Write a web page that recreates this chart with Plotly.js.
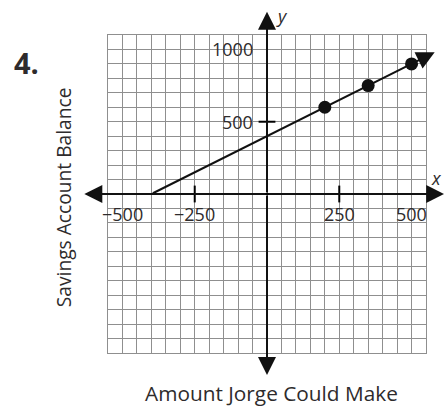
<!DOCTYPE html>
<html>
<head>
<meta charset="utf-8">
<script src="https://cdn.plot.ly/plotly-3.0.1.min.js"></script>
<style>html,body{margin:0;padding:0;background:#fff;}#chart{width:444px;height:406px;}</style>
</head>
<body>
<div id="chart"></div>
<script>
// Data
const pointsX = [200, 350, 500];
const pointsY = [600, 750, 900];
const lineX = [-400, 580];
const lineY = [0, 980];
const xTickLabels = ["\u2212500", "\u2212250", "250", "500"];
const xTickValues = [-500, -250, 250, 500];
const yTickLabels = ["500", "1000"];
const yTickValues = [500, 1000];
const xTickMarks = [-250, 250];
const yTickMarks = [0, 500];
const axisTipsX = [-632, 613];
const axisTipsY = [-1253, 1260];
const xRange = [-550, 550];
const yRange = [-1100, 1100];

const FONT = '"Open Sans", Lato, sans-serif';
const TXT = '#2e2b2c';
const GRID = '#8f8f8f';

const traces = [
  {
    x: xTickMarks, y: xTickMarks.map(() => 0), mode: 'markers', type: 'scatter',
    marker: {symbol: 'line-ns', size: 12, line: {color: '#000', width: 2}},
    hoverinfo: 'skip', cliponaxis: false
  },
  {
    x: yTickMarks.map(() => 0), y: yTickMarks, mode: 'markers', type: 'scatter',
    marker: {symbol: 'line-ew', size: 12, line: {color: '#000', width: 2}},
    hoverinfo: 'skip', cliponaxis: false
  },
  {
    x: pointsX, y: pointsY, mode: 'markers', type: 'scatter',
    marker: {size: 13, color: '#111'}, cliponaxis: false
  }
];

const annotations = [];
const arrowStyle = {text: '', showarrow: true, arrowhead: 2, arrowsize: 1.8, arrowwidth: 2, arrowcolor: '#111', standoff: 0,
  xref: 'x', yref: 'y', axref: 'x', ayref: 'y'};
// axis arrows
axisTipsX.forEach(t => annotations.push(Object.assign({x: t, y: 0, ax: 0, ay: 0}, arrowStyle)));
axisTipsY.forEach(t => annotations.push(Object.assign({x: 0, y: t, ax: 0, ay: 0}, arrowStyle)));
// data line with arrow
annotations.push(Object.assign({x: lineX[1], y: lineY[1], ax: lineX[0], ay: lineY[0]}, arrowStyle));
// tick labels
xTickValues.forEach((v, i) => annotations.push({
  x: v, y: 0, xref: 'x', yref: 'y', text: xTickLabels[i], showarrow: false,
  yanchor: 'middle', xanchor: 'center', yshift: -20, font: {family: FONT, size: 18, color: TXT}
}));
yTickValues.forEach((v, i) => annotations.push({
  x: 0, y: v, xref: 'x', yref: 'y', text: yTickLabels[i], showarrow: false,
  yanchor: 'middle', xanchor: 'right', xshift: -12, font: {family: FONT, size: 18, color: TXT}
}));
// axis letters
annotations.push({x: 0.547, y: 1.06, xref: 'paper', yref: 'paper', text: '<i>y</i>', showarrow: false,
  xanchor: 'center', yanchor: 'middle', font: {family: FONT, size: 18, color: TXT}});
annotations.push({x: 1.0566, y: 0.55, xref: 'paper', yref: 'paper', text: '<i>x</i>', showarrow: false,
  xanchor: 'right', yanchor: 'middle', font: {family: FONT, size: 18, color: TXT}});
// titles
annotations.push({x: 0.513, y: -0.126, xref: 'paper', yref: 'paper', text: 'Amount Jorge Could Make', showarrow: false,
  xanchor: 'center', yanchor: 'middle', font: {family: FONT, size: 20.8, color: TXT}});
annotations.push({x: -0.1415, y: 0.49, xref: 'paper', yref: 'paper', text: 'Savings Account Balance', showarrow: false,
  textangle: -90, xanchor: 'center', yanchor: 'middle', font: {family: FONT, size: 19.2, color: TXT}});
annotations.push({x: -0.255, y: 0.915, xref: 'paper', yref: 'paper', text: '<b>4.</b>', showarrow: false,
  xanchor: 'center', yanchor: 'middle', font: {family: FONT, size: 29, color: TXT}});

const layout = {
  width: 444, height: 406,
  margin: {l: 108, r: 18, t: 35, b: 53, pad: 0},
  paper_bgcolor: '#fff', plot_bgcolor: '#fff',
  showlegend: false,
  xaxis: {range: xRange, dtick: 50, tick0: 0, showgrid: true, gridcolor: GRID, gridwidth: 1,
    zeroline: false, showticklabels: false, ticks: '', showline: true, mirror: true, linecolor: GRID, linewidth: 1, fixedrange: true},
  yaxis: {range: yRange, dtick: 100, tick0: 0, showgrid: true, gridcolor: GRID, gridwidth: 1,
    zeroline: false, showticklabels: false, ticks: '', showline: true, mirror: true, linecolor: GRID, linewidth: 1, fixedrange: true},
  annotations: annotations
};

Plotly.newPlot('chart', traces, layout, {staticPlot: true, displayModeBar: false});
</script>
</body>
</html>
